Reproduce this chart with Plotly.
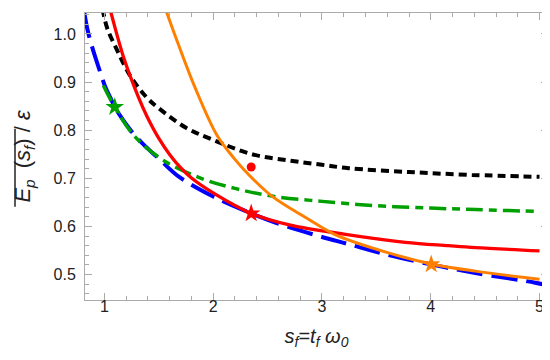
import plotly.graph_objects as go

# Readings from the reference picture
blue_x = [0.815, 0.822, 0.841, 0.871, 0.917, 0.963, 1.009, 1.055, 1.095, 1.147, 1.25, 1.374, 1.5, 1.68, 2.0, 2.35, 2.57, 2.94, 3.244, 3.6, 4.0, 4.41, 4.96, 5.1]
blue_y = [1.045, 1.035, 1.012, 0.985, 0.951, 0.919, 0.889, 0.867, 0.848, 0.829, 0.797, 0.767, 0.741, 0.704, 0.662, 0.627, 0.608, 0.582, 0.563, 0.541, 0.521, 0.503, 0.483, 0.476]

black_x = [0.98, 0.99, 1.025, 1.117, 1.239, 1.393, 1.497, 1.75, 1.987, 2.355, 2.7, 3.0, 3.244, 3.8, 4.378, 5.0]
black_y = [1.052, 1.043, 1.012, 0.966, 0.912, 0.867, 0.846, 0.805, 0.781, 0.750, 0.737, 0.728, 0.721, 0.713, 0.707, 0.703]

green_x = [0.99, 1.095, 1.282, 1.558, 1.9, 2.2, 2.539, 3.0, 3.5, 4.0, 4.41, 5.0]
green_y = [0.893, 0.848, 0.786, 0.735, 0.699, 0.679, 0.663, 0.652, 0.643, 0.638, 0.635, 0.631]

red_x = [1.045, 1.06, 1.178, 1.315, 1.39, 1.497, 1.604, 1.7, 1.803, 2.018, 2.349, 2.7, 3.2, 3.765, 4.163, 4.41, 5.0]
red_y = [1.056, 1.044, 0.950, 0.867, 0.829, 0.784, 0.748, 0.722, 0.700, 0.667, 0.627, 0.603, 0.584, 0.567, 0.560, 0.556, 0.549]

orange_x = [1.56, 1.573, 1.68, 1.834, 2.033, 2.186, 2.324, 2.539, 2.876, 3.12, 3.611, 4.004, 4.41, 5.0]
orange_y = [1.052, 1.044, 0.978, 0.888, 0.790, 0.743, 0.708, 0.663, 0.615, 0.583, 0.545, 0.522, 0.507, 0.490]

star_x = [1.095, 2.349, 4.004]
star_y = [0.848, 0.627, 0.521]
star_colors = ["#00a000", "#ff0000", "#ff8000"]

dot_x = [2.349]
dot_y = [0.7234]

x_ticks = [1, 2, 3, 4, 5]
y_ticks = [0.5, 0.6, 0.7, 0.8, 0.9, 1.0]
y_tick_labels = ["0.5", "0.6", "0.7", "0.8", "0.9", "1.0"]

fig = go.Figure()
fig.add_trace(go.Scatter(x=blue_x, y=blue_y, mode="lines",
                         line=dict(color="#0000ff", width=4, dash="26px,9px", shape="spline")))
fig.add_trace(go.Scatter(x=black_x, y=black_y, mode="lines",
                         line=dict(color="#000000", width=4, dash="8px,5px", shape="spline")))
fig.add_trace(go.Scatter(x=green_x, y=green_y, mode="lines",
                         line=dict(color="#00a000", width=3.5, dash="17px,6px,8px,6px", shape="spline")))
fig.add_trace(go.Scatter(x=red_x, y=red_y, mode="lines",
                         line=dict(color="#ff0000", width=3.3, shape="spline")))
fig.add_trace(go.Scatter(x=orange_x, y=orange_y, mode="lines",
                         line=dict(color="#ff8000", width=3, shape="spline")))
fig.add_trace(go.Scatter(x=star_x, y=star_y, mode="markers",
                         marker=dict(symbol="star", size=14, color=star_colors, line=dict(width=0))))
fig.add_trace(go.Scatter(x=dot_x, y=dot_y, mode="markers",
                         marker=dict(symbol="circle", size=9, color="#ff0000", line=dict(width=0))))

axis_common = dict(
    showline=True, linecolor="#aaaaaa", linewidth=1, mirror="allticks",
    ticks="inside", ticklen=7, tickcolor="#aaaaaa", tickwidth=1,
    showgrid=False, zeroline=False,
    tickfont=dict(family="Liberation Sans, Arial", size=16, color="#222222"),
)

fig.update_layout(
    width=550, height=360,
    margin=dict(l=77, r=10, t=5, b=68),
    paper_bgcolor="white", plot_bgcolor="white",
    showlegend=False,
    xaxis=dict(
        range=[0.821, 5.078], tickvals=x_ticks, ticktext=[str(v) for v in x_ticks],
        minor=dict(ticks="inside", dtick=0.2, tick0=0, ticklen=4, tickcolor="#aaaaaa"),
        ticklabelstandoff=-8,
        title=dict(text="<i>s<sub>f</sub></i>=<i>t<sub>f</sub> ω<sub>0</sub></i>",
                   font=dict(family="Liberation Sans, Arial", size=20, color="#222222"),
                   standoff=14),
        **axis_common,
    ),
    yaxis=dict(
        range=[0.447, 1.0436], tickvals=y_ticks, ticktext=y_tick_labels,
        minor=dict(ticks="inside", dtick=0.02, tick0=0, ticklen=4, tickcolor="#aaaaaa"),
        ticklabelstandoff=5,
        title=dict(text='<i>E<sub>p</sub></i>\u2002(<i>s<sub>f</sub></i>) / <i>ε</i>',
                   font=dict(family="Liberation Sans, Arial", size=22, color="#222222"),
                   standoff=16),
        **axis_common,
    ),
)

# overline bar over E_p(s_f) in the y-axis title
fig.add_shape(type="line", xref="paper", yref="paper",
              x0=(7 - 77) / 463, x1=(7 - 77) / 463,
              y0=(292.5 - 199) / 287.5, y1=(292.5 - 121) / 287.5,
              line=dict(color="#222222", width=1.5))

fig.write_html("out.html")
